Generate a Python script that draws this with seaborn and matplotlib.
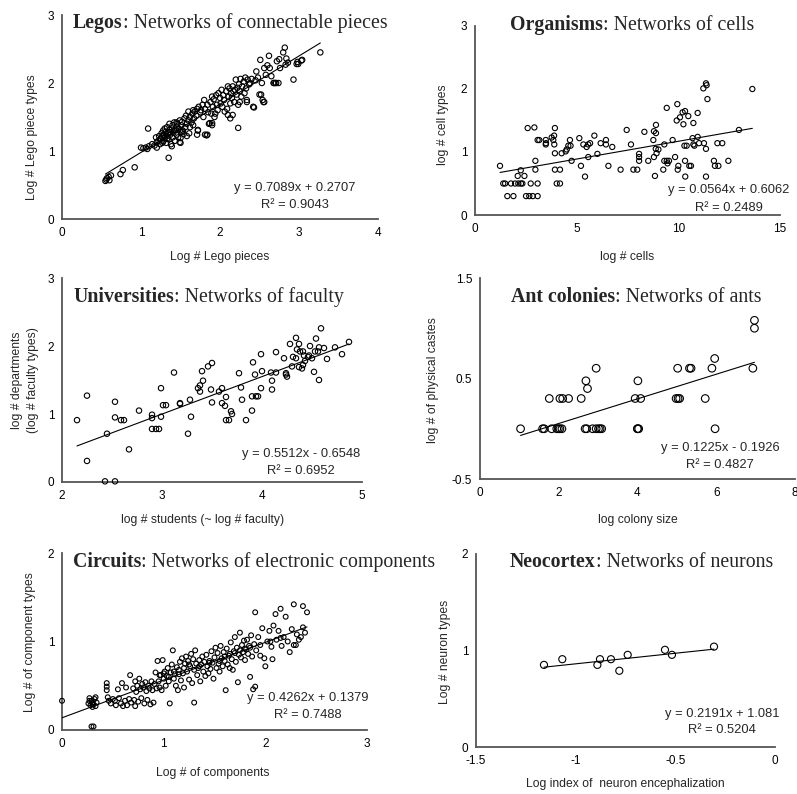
import numpy as np
import matplotlib
matplotlib.use("Agg")
import matplotlib.pyplot as plt
import seaborn as sns

# ---------------- data ----------------
legos_x = [0.55,0.56,0.57,0.59,0.60,0.62,0.74,0.77,0.92,1.00,
           1.03,1.06,1.08,1.09,1.10,1.35,1.14,1.17,1.19,1.20,
           1.22,1.23,1.24,1.25,1.26,1.27,1.28,1.28,1.29,1.30,
           1.31,1.32,1.33,1.33,1.34,1.35,1.36,1.36,1.37,1.38,
           1.39,1.40,1.40,1.41,1.42,1.43,1.44,1.45,1.45,1.46,
           1.47,1.48,1.49,1.50,1.50,1.51,1.52,1.53,1.54,1.55,
           1.56,1.57,1.58,1.60,1.60,1.61,1.62,1.64,1.65,1.66,
           1.67,1.68,1.70,1.71,1.72,1.73,1.75,1.76,1.78,1.79,
           1.80,1.81,1.83,1.84,1.85,1.86,1.88,1.89,1.90,1.91,
           1.92,1.93,1.95,1.96,1.97,1.98,2.00,2.01,2.02,2.03,
           2.04,2.05,2.06,2.08,2.09,2.10,2.11,2.12,2.13,2.14,
           2.15,2.16,2.17,2.18,2.19,2.20,2.21,2.22,2.23,2.24,
           2.25,2.26,2.27,2.28,2.30,2.31,2.32,2.33,2.34,2.35,
           2.37,2.38,2.40,2.42,2.43,2.45,2.46,2.48,2.50,2.51,
           2.52,2.53,2.54,2.55,2.56,2.58,2.60,2.62,2.63,2.65,
           2.68,2.70,2.72,2.74,2.75,2.76,2.80,2.82,2.83,2.84,
           2.86,2.93,2.97,2.98,3.03,3.27,1.52,1.58,1.62,1.66,
           1.20,1.24,1.27,1.30,1.33,1.36,1.39,1.42,1.45,1.49,
           1.81,1.87,1.90,1.94,2.10,2.13,2.16,2.23,2.25,2.34,
           1.71,1.72,1.84,1.90,1.50,2.56,2.68,2.71,3.04,2.99]
legos_y = [0.56,0.58,0.60,0.62,0.57,0.64,0.66,0.72,0.76,1.05,
           1.04,1.05,1.03,1.33,1.07,0.90,1.10,1.08,1.20,1.13,
           1.15,1.22,1.10,1.18,1.26,1.21,1.14,1.30,1.24,1.19,
           1.28,1.12,1.22,1.35,1.26,1.17,1.31,1.40,1.24,1.10,
           1.33,1.20,1.38,1.27,1.42,1.15,1.31,1.24,1.36,1.40,
           1.20,1.33,1.45,1.28,1.12,1.38,1.43,1.30,1.25,1.48,
           1.35,1.52,1.40,1.45,1.58,1.26,1.50,1.42,1.55,1.60,
           1.48,1.58,1.52,1.62,1.30,1.65,1.57,1.60,1.68,1.50,
           1.75,1.62,1.23,1.68,1.57,1.40,1.72,1.55,1.80,1.65,
           1.76,1.50,1.82,1.68,1.60,1.85,1.78,1.70,1.90,1.65,
           1.82,1.75,1.58,1.88,1.62,1.95,1.80,1.92,1.70,1.85,
           1.78,1.95,1.88,1.72,1.90,2.05,1.83,1.93,1.34,1.98,
           1.88,2.06,1.80,1.95,2.02,1.85,2.08,1.92,1.72,2.05,
           1.98,2.00,2.06,1.65,1.64,2.04,2.17,2.08,1.83,2.34,
           1.83,2.00,1.75,1.72,2.22,2.12,2.26,2.40,2.22,2.10,
           2.00,2.00,2.32,2.00,2.35,2.22,2.45,2.52,2.27,2.36,
           2.30,2.05,2.28,2.31,2.33,2.45,1.28,1.22,1.35,1.38,
           1.05,1.17,1.12,1.33,1.18,1.28,1.07,1.30,1.42,1.13,
           1.24,1.41,1.38,1.55,1.53,1.48,1.53,1.68,1.72,1.75,
           1.24,1.31,1.24,1.41,1.19,1.72,2.00,2.00,2.34,2.28]

org_x = [1.23,1.39,1.48,1.59,1.89,1.77,1.97,2.13,2.26,2.33,
         2.10,2.25,2.43,2.59,2.51,2.67,2.84,3.08,2.74,3.08,
         2.92,2.97,2.97,3.08,3.16,3.48,3.49,3.48,3.77,3.85,
         3.89,3.93,3.90,3.93,3.93,4.18,4.02,4.18,4.26,4.46,
         4.51,4.59,4.70,4.67,4.75,5.13,5.21,5.33,5.41,5.49,
         5.57,5.66,5.57,5.87,6.02,6.18,6.44,6.44,6.56,6.75,
         7.16,7.46,7.67,7.79,7.98,8.07,8.07,8.07,8.33,8.52,
         8.77,8.80,8.90,8.85,8.90,8.93,8.89,8.80,9.02,9.43,
         9.31,9.26,9.31,9.43,9.54,9.47,9.72,9.84,9.95,9.92,
         10.00,9.97,10.08,10.21,10.33,10.49,10.25,10.30,10.41,10.33,
         10.34,10.54,10.62,10.74,10.70,10.74,10.79,10.95,10.95,11.02,
         11.23,11.36,11.39,11.43,11.26,11.36,11.36,11.75,11.80,11.97,
         11.92,12.16,12.46,12.98,13.64]
org_y = [0.78,0.50,0.50,0.30,0.30,0.50,0.50,0.50,0.50,0.50,
         0.62,0.71,0.62,1.38,0.30,0.30,0.30,0.30,0.50,0.50,
         1.39,0.86,0.72,1.19,1.19,1.19,1.14,1.12,1.23,1.19,
         1.26,1.38,1.12,0.98,0.72,0.72,0.50,0.50,0.98,1.01,
         1.04,1.10,1.10,1.19,0.86,1.22,0.78,1.12,0.61,1.08,
         1.12,1.14,0.92,1.26,0.97,1.14,1.19,1.12,0.78,1.08,
         0.72,1.35,1.12,0.72,0.72,0.97,0.92,0.86,1.32,0.86,
         1.19,1.33,1.30,0.62,1.43,0.98,1.05,0.92,1.04,1.70,
         1.12,0.72,0.86,0.86,0.86,0.82,1.19,0.92,1.76,1.50,
         0.78,0.72,1.55,1.63,1.65,1.57,1.44,1.10,1.10,0.86,
         0.61,0.78,0.78,1.46,1.22,1.12,1.10,1.62,1.24,1.14,
         2.01,2.09,2.06,1.84,1.14,1.05,0.61,0.86,0.78,0.78,
         1.14,1.14,0.86,1.35,2.00]

uni_x = [2.15,2.25,2.25,2.45,2.43,2.53,2.53,2.53,2.59,2.62,
         2.67,2.77,2.90,2.90,2.90,2.94,2.97,2.99,2.99,3.01,
         3.04,3.12,3.18,3.18,3.26,3.28,3.29,3.36,3.38,3.38,
         3.40,3.41,3.46,3.50,3.49,3.50,3.57,3.60,3.60,3.64,
         3.63,3.64,3.67,3.69,3.70,3.77,3.79,3.80,3.84,3.90,
         3.91,3.90,3.94,3.96,3.99,3.99,3.93,4.00,4.10,4.10,
         4.09,4.14,4.14,4.22,4.24,4.25,4.28,4.30,4.34,4.35,
         4.37,4.31,4.34,4.37,4.40,4.41,4.38,4.41,4.42,4.46,
         4.47,4.48,4.54,4.53,4.56,4.57,4.57,4.52,4.59,4.62,
         4.65,4.73,4.80,4.87,4.50,4.24,4.43]
uni_y = [0.91,1.27,0.31,0.71,0.01,0.01,1.18,0.95,0.91,0.91,
         0.48,1.05,0.99,0.94,0.78,0.78,0.78,1.38,0.96,1.13,
         1.13,1.61,1.16,1.15,0.71,1.21,0.96,1.38,1.42,1.33,
         1.63,1.49,1.70,1.75,1.36,1.17,1.33,1.38,1.16,1.25,
         1.12,0.91,0.91,1.04,1.00,1.60,1.39,1.21,0.91,1.05,
         1.76,1.26,1.26,1.26,1.88,1.38,1.58,1.63,1.36,1.49,
         1.61,1.91,1.61,1.82,1.58,1.55,2.03,1.70,2.12,1.95,
         2.03,1.84,1.82,1.69,1.67,1.72,1.92,1.92,1.86,1.84,
         1.86,2.00,2.11,1.92,1.92,1.98,1.50,1.62,2.26,1.97,
         1.81,1.98,1.88,2.06,1.82,1.60,1.78]

ant_x = [1.03,1.59,1.63,1.76,1.82,1.95,1.99,2.03,2.08,2.03,
         2.10,2.25,2.57,2.67,2.71,2.69,2.73,2.86,2.95,3.01,
         3.05,3.09,2.95,3.94,4.08,4.01,4.00,4.00,4.03,4.98,
         5.03,5.07,5.02,5.32,5.36,5.72,5.89,5.96,5.97,6.93,
         6.97,6.97]
ant_y = [0.0,0.0,0.0,0.301,0.0,0.0,0.0,0.0,0.0,0.301,
         0.301,0.301,0.301,0.0,0.0,0.477,0.40,0.0,0.0,0.0,
         0.0,0.0,0.602,0.301,0.301,0.477,0.0,0.0,0.0,0.301,
         0.301,0.301,0.602,0.602,0.602,0.301,0.602,0.699,0.0,0.602,
         1.0,1.079]

circ_x = [0.00,0.26,0.27,0.28,0.29,0.30,0.30,0.31,0.32,0.33,
          0.34,0.29,0.31,0.27,0.33,0.30,0.44,0.44,0.44,0.45,
          0.46,0.48,0.50,0.52,0.53,0.55,0.56,0.58,0.59,0.60,
          0.62,0.63,0.64,0.66,0.67,0.68,0.70,0.71,0.72,0.72,
          0.73,0.74,0.75,0.76,0.77,0.78,0.79,0.80,0.81,0.82,
          0.83,0.84,0.85,0.86,0.87,0.88,0.89,0.90,0.91,0.92,
          0.93,0.94,0.95,0.96,0.97,0.98,0.99,1.00,1.01,1.02,
          1.03,1.04,1.05,1.06,1.07,1.08,1.09,1.10,1.11,1.12,
          1.13,1.14,1.15,1.16,1.17,1.18,1.19,1.20,1.21,1.22,
          1.23,1.24,1.25,1.26,1.27,1.28,1.29,1.30,1.30,1.31,
          1.32,1.33,1.34,1.35,1.36,1.37,1.38,1.39,1.40,1.41,
          1.42,1.43,1.44,1.45,1.46,1.47,1.48,1.49,1.50,1.51,
          1.52,1.53,1.54,1.55,1.56,1.57,1.58,1.59,1.60,1.61,
          1.62,1.63,1.64,1.65,1.66,1.67,1.68,1.69,1.70,1.71,
          1.72,1.73,1.74,1.75,1.76,1.77,1.78,1.79,1.80,1.81,
          1.82,1.83,1.84,1.85,1.86,1.87,1.88,1.89,1.90,1.90,
          1.91,1.93,1.95,1.97,1.99,2.00,2.02,2.04,2.06,2.07,
          2.08,2.10,2.11,2.13,2.15,2.16,2.18,2.20,2.22,2.24,
          2.26,2.28,2.28,2.30,2.31,2.33,2.35,2.37,2.37,2.39,
          2.41,0.96,1.00,1.05,1.10,1.15,1.20,1.25,1.35,1.45,
          1.55,1.60,1.65,1.70,1.75,1.80,1.85,1.95,2.05,2.15]
circ_y = [0.33,0.30,0.36,0.28,0.33,0.26,0.31,0.29,0.35,0.27,
          0.31,0.04,0.04,0.33,0.37,0.29,0.53,0.49,0.45,0.37,
          0.33,0.30,0.35,0.33,0.28,0.46,0.36,0.30,0.53,0.27,
          0.33,0.48,0.28,0.35,0.62,0.31,0.47,0.34,0.55,0.27,
          0.43,0.50,0.32,0.58,0.46,0.36,0.52,0.48,0.30,0.54,
          0.44,0.34,0.50,0.47,0.29,0.55,0.45,0.31,0.52,0.65,
          0.47,0.78,0.55,0.48,0.62,0.45,0.79,0.58,0.66,0.50,
          0.61,0.70,0.55,0.30,0.65,0.74,0.90,0.58,0.63,0.50,
          0.71,0.45,0.68,0.77,0.56,0.81,0.64,0.48,0.75,0.83,
          0.66,0.78,0.57,0.72,0.86,0.53,0.80,0.31,0.68,0.90,
          0.75,0.62,0.70,0.79,0.55,0.74,0.83,0.66,0.77,0.61,
          0.85,0.72,0.64,0.78,0.69,0.89,0.76,0.58,0.82,0.93,
          0.70,0.87,0.75,0.66,0.95,0.81,0.72,0.88,0.78,0.45,
          0.92,0.74,0.84,0.70,0.99,0.80,0.68,0.89,1.05,0.77,
          0.93,0.54,0.85,1.10,0.82,0.96,0.88,1.01,0.79,0.91,
          1.02,0.86,0.95,0.60,1.07,0.83,0.46,0.97,0.49,1.33,
          0.90,1.05,0.84,1.15,0.81,0.72,1.00,1.12,0.94,0.80,
          1.18,1.31,1.02,1.12,1.37,0.95,1.05,1.28,1.00,0.88,
          1.14,1.42,0.96,0.96,1.08,1.02,1.05,1.40,1.16,1.10,
          1.33,0.62,0.64,0.60,0.66,0.63,0.70,0.74,0.72,0.76,
          0.78,0.83,0.86,0.87,0.90,0.92,0.93,0.96,1.00,1.04]

neo_x = [-1.159,-1.067,-0.891,-0.878,-0.823,-0.781,-0.739,-0.552,-0.517,-0.306]
neo_y = [0.851,0.910,0.851,0.910,0.910,0.790,0.955,1.007,0.955,1.040]

# trend-line coefficients as printed on the chart
slopes = [0.7089, 0.0564, 0.5512, 0.1225, 0.4262, 0.2191]
intercepts = [0.2707, 0.6062, -0.6548, -0.1926, 0.1379, 1.081]
eq_texts = ["y = 0.7089x + 0.2707", "y = 0.0564x + 0.6062", "y = 0.5512x - 0.6548",
            "y = 0.1225x - 0.1926", "y = 0.4262x + 0.1379", "y = 0.2191x + 1.081"]
r2_texts = ["R\u00b2 = 0.9043", "R\u00b2 = 0.2489", "R\u00b2 = 0.6952",
            "R\u00b2 = 0.4827", "R\u00b2 = 0.7488", "R\u00b2 = 0.5204"]
title_bold = ["Legos", "Organisms", "Universities", "Ant colonies", "Circuits", "Neocortex"]
title_rest = [": Networks of connectable pieces", ": Networks of cells", ": Networks of faculty",
              ": Networks of ants", ": Networks of electronic components", ": Networks of neurons"]
x_labels = ["Log # Lego pieces", "log # cells", "log # students (~ log # faculty)",
            "log colony size", "Log # of components", "Log index of  neuron encephalization"]
y_labels = ["Log # Lego piece types", "log # cell types", "log # departments\n(log # faculty types)",
            "log # of physical castes", "Log # of component types", "Log # neuron types"]
x_ticks = [[0, 1, 2, 3, 4], [0, 5, 10, 15], [2, 3, 4, 5], [0, 2, 4, 6, 8], [0, 1, 2, 3], [-1.5, -1, -0.5, 0]]
x_ticklabels = [["0", "1", "2", "3", "4"], ["0", "5", "10", "15"], ["2", "3", "4", "5"],
                ["0", "2", "4", "6", "8"], ["0", "1", "2", "3"], ["-1.5", "-1", "-0.5", "0"]]
y_ticks = [[0, 1, 2, 3], [0, 1, 2, 3], [0, 1, 2, 3], [-0.5, 0.5, 1.5], [0, 1, 2], [0, 1, 2]]
y_ticklabels = [["0", "1", "2", "3"], ["0", "1", "2", "3"], ["0", "1", "2", "3"],
                ["-0.5", "0.5", "1.5"], ["0", "1", "2"], ["0", "1", "2"]]

xs_all = [legos_x, org_x, uni_x, ant_x, circ_x, neo_x]
ys_all = [legos_y, org_y, uni_y, ant_y, circ_y, neo_y]

# ---------------- layout (pixels) ----------------
W, H = 797, 794
boxes = [(62, 15, 378, 219), (475, 26, 780, 215), (62, 278, 362, 482),
         (480, 278, 795, 479), (62, 553, 367, 730), (476, 554, 775, 747)]
title_pos = [(73, 28), (510, 30), (73, 302), (511, 302), (73, 567), (510, 567)]
eq_pos = [(295, 188, 205), (729, 190, 208), (301, 454, 471),
          (720, 448, 465), (308, 698, 715), (722, 714, 730)]
xlab_pos = [(220, 257), (627, 257), (203, 520), (638, 520), (213, 773), (625, 784)]
ylab_pos = [(32, 137), (443, 125), (25, 380), (433, 380), (30, 642), (445, 652)]
marker_size = [15, 14, 15, 30, 12, 26]

sns.set_style("white")
plt.rcParams['font.family'] = ['Liberation Sans', 'DejaVu Sans']
SERIF = ['Liberation Serif', 'DejaVu Serif']
AX_COLOR = '#555555'
TITLE_FS = 14.3
EQ_FS = 9.3
TICK_FS = 8.5
LABEL_FS = 8.7

fig = plt.figure(figsize=(W / 100, H / 100), dpi=100)


def frac(box, px, py):
    l, t, r, b = box
    return (px - l) / (r - l), (b - py) / (b - t)


for i in range(6):
    l, t, r, b = boxes[i]
    ax = fig.add_axes([l / W, 1 - b / H, (r - l) / W, (b - t) / H])
    ax.set_facecolor('none')
    xt, yt = x_ticks[i], y_ticks[i]
    ax.set_xlim(xt[0], xt[-1])
    ax.set_ylim(yt[0], yt[-1])

    sns.scatterplot(x=xs_all[i], y=ys_all[i], ax=ax, marker='o', s=marker_size[i],
                    facecolor='none', edgecolor='black', linewidth=0.8,
                    clip_on=False, legend=False, zorder=3)
    xl = np.array([min(xs_all[i]), max(xs_all[i])])
    ax.plot(xl, slopes[i] * xl + intercepts[i], color='black', lw=0.8, zorder=4)

    ax.set_xticks(xt)
    ax.set_xticklabels(x_ticklabels[i])
    ax.set_yticks(yt)
    ax.set_yticklabels(y_ticklabels[i])
    for s in ['top', 'right']:
        ax.spines[s].set_visible(False)
    for s in ['left', 'bottom']:
        ax.spines[s].set_color(AX_COLOR)
        ax.spines[s].set_linewidth(1.3)
    ax.tick_params(direction='out', length=4, width=1, color=AX_COLOR,
                   labelsize=TICK_FS, pad=1.5, labelcolor='black')

    ax.set_xlabel(x_labels[i], fontsize=LABEL_FS, va='center', ha='center')
    ax.xaxis.set_label_coords(*frac(boxes[i], *xlab_pos[i]))
    ax.set_ylabel(y_labels[i], fontsize=LABEL_FS, va='center', ha='center',
                  linespacing=1.45)
    ax.yaxis.set_label_coords(*frac(boxes[i], *ylab_pos[i]))

    # title: bold lead + normal remainder
    tx, ty = frac(boxes[i], *title_pos[i])
    t1 = ax.text(tx, ty, title_bold[i], transform=ax.transAxes, family=SERIF,
                 fontweight='bold', fontsize=TITLE_FS, ha='left', va='baseline',
                 clip_on=False)
    ax.annotate(title_rest[i], xy=(1, 0), xycoords=t1, family=SERIF,
                fontsize=TITLE_FS, ha='left', va='bottom', annotation_clip=False)

    ex, ey1, ey2 = eq_pos[i]
    fx, fy1 = frac(boxes[i], ex, ey1)
    _, fy2 = frac(boxes[i], ex, ey2)
    ax.text(fx, fy1, eq_texts[i], transform=ax.transAxes, fontsize=EQ_FS,
            ha='center', va='center')
    ax.text(fx, fy2, r2_texts[i], transform=ax.transAxes, fontsize=EQ_FS,
            ha='center', va='center')

fig.savefig("out.png", dpi=100)
